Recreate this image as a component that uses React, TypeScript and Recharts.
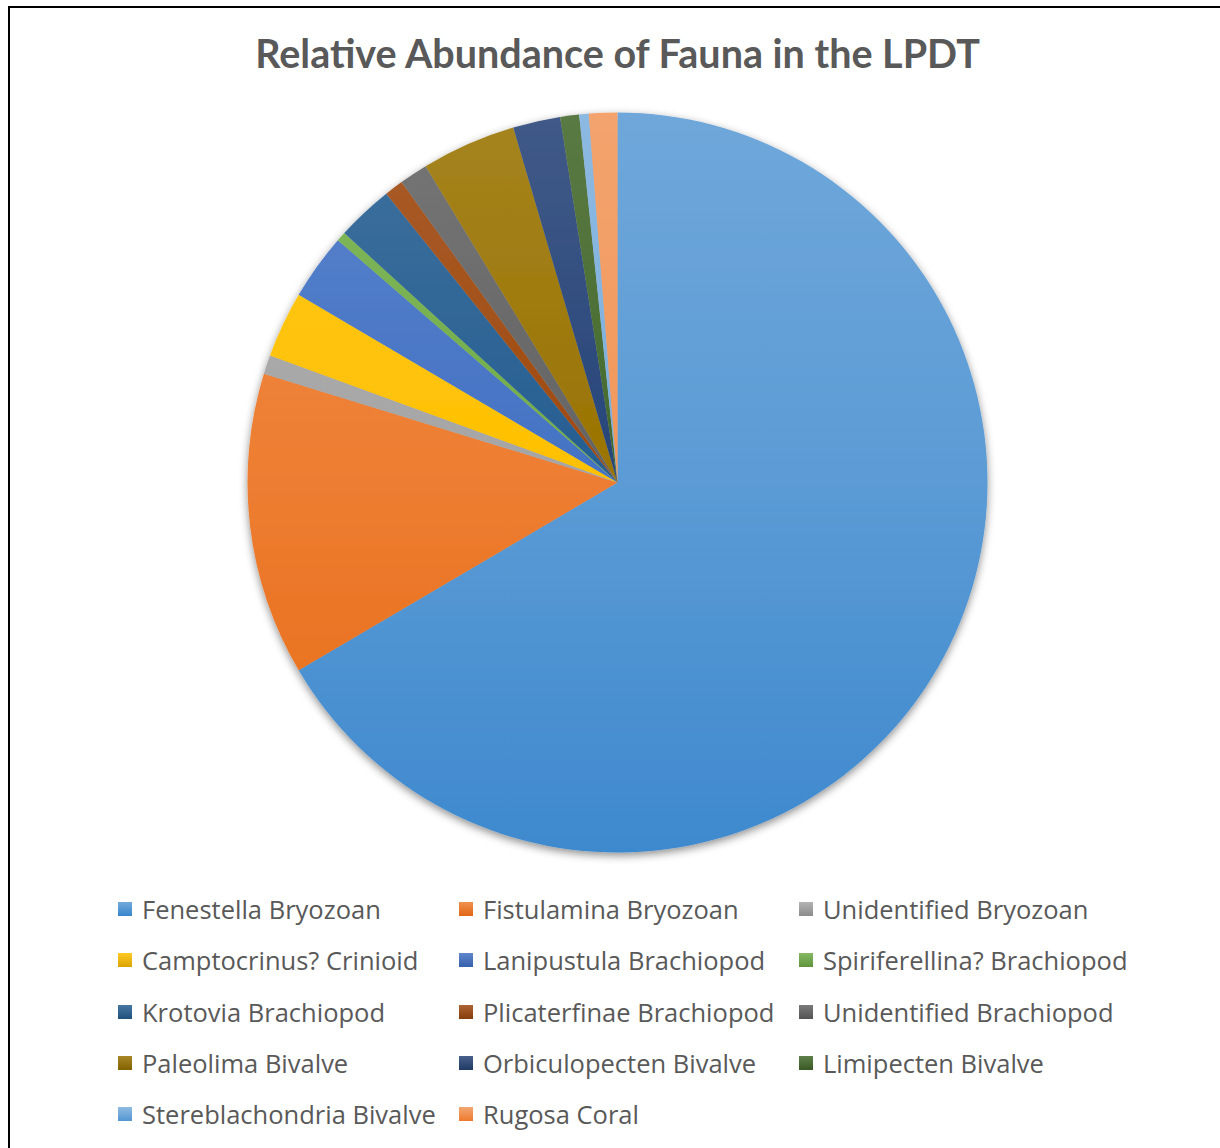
import React from 'react';
import { PieChart, Pie, Cell, Legend } from 'recharts';

const CATEGORIES = [
  'Fenestella Bryozoan',
  'Fistulamina Bryozoan',
  'Unidentified Bryozoan',
  'Camptocrinus? Crinioid',
  'Lanipustula Brachiopod',
  'Spiriferellina? Brachiopod',
  'Krotovia Brachiopod',
  'Plicaterfinae Brachiopod',
  'Unidentified Brachiopod',
  'Paleolima Bivalve',
  'Orbiculopecten Bivalve',
  'Limipecten Bivalve',
  'Stereblachondria Bivalve',
  'Rugosa Coral',
];

const COUNTS = [161, 32, 2, 7, 7, 1, 6, 2, 3, 10, 5, 2, 1, 3];

const COLORS = [
  '#5B9BD5', '#ED7D31', '#A5A5A5', '#FFC000', '#4472C4', '#70AD47',
  '#255E91', '#9E480E', '#636363', '#997300', '#264478', '#43682B',
  '#7CAFDD', '#F1975A',
];

const TITLE = 'Relative Abundance of Fauna in the LPDT';

const data = CATEGORIES.map((name, i) => ({ name, value: COUNTS[i] }));

function hexToRgb(h: string) {
  const n = parseInt(h.slice(1), 16);
  return [(n >> 16) & 255, (n >> 8) & 255, n & 255];
}
function rgbToHex(r: number[]) {
  return '#' + r.map((v) => Math.max(0, Math.min(255, Math.round(v))).toString(16).padStart(2, '0')).join('');
}
function hexToHsl(h: string) {
  const [R0, G0, B0] = hexToRgb(h);
  const r = R0 / 255, g = G0 / 255, b = B0 / 255;
  const max = Math.max(r, g, b), min = Math.min(r, g, b);
  let hh = 0, s = 0;
  const l = (max + min) / 2;
  if (max !== min) {
    const d = max - min;
    s = l > 0.5 ? d / (2 - max - min) : d / (max + min);
    if (max === r) hh = (g - b) / d + (g < b ? 6 : 0);
    else if (max === g) hh = (b - r) / d + 2;
    else hh = (r - g) / d + 4;
    hh /= 6;
  }
  return [hh, s, l];
}
function hslToHex(h: number, s: number, l: number) {
  const f = (p: number, q: number, t: number) => {
    if (t < 0) t += 1;
    if (t > 1) t -= 1;
    if (t < 1 / 6) return p + (q - p) * 6 * t;
    if (t < 1 / 2) return q;
    if (t < 2 / 3) return p + (q - p) * (2 / 3 - t) * 6;
    return p;
  };
  let r, g, b;
  if (s === 0) { r = g = b = l; } else {
    const q = l < 0.5 ? l * (1 + s) : l + s - l * s;
    const p = 2 * l - q;
    r = f(p, q, h + 1 / 3); g = f(p, q, h); b = f(p, q, h - 1 / 3);
  }
  return rgbToHex([r * 255, g * 255, b * 255]);
}
function lighter(c: string, f: number) {
  return rgbToHex(hexToRgb(c).map((v) => v + (255 - v) * f));
}
function darker(c: string, f: number) {
  const [h, s, l] = hexToHsl(c);
  return hslToHex(h, s, l * f);
}

const CX = 617.5;
const CY = 482.5;
const R = 370;

const COL_X = [118, 459, 799];
const ROW_Y0 = 29;
const ROW_DY = 51.25;

const renderLegend = (props: any) => {
  const payload = [...(props.payload || [])].sort(
    (a: any, b: any) => CATEGORIES.indexOf(a.value) - CATEGORIES.indexOf(b.value)
  );
  return (
    <div style={{ position: 'relative', width: 1220, height: 260 }}>
      {payload.map((entry: any, i: number) => {
        const col = i % 3;
        const row = Math.floor(i / 3);
        const idx = CATEGORIES.indexOf(entry.value);
        const c = COLORS[idx >= 0 ? idx : i];
        const y = ROW_Y0 + row * ROW_DY;
        return (
          <div key={i}>
            <div
              style={{
                position: 'absolute',
                left: COL_X[col],
                top: y - 7,
                width: 14,
                height: 14,
                background: `linear-gradient(to bottom, ${lighter(c, 0.15)}, ${darker(c, 0.85)})`,
              }}
            />
            <div
              style={{
                position: 'absolute',
                left: COL_X[col] + 24,
                top: y - 17,
                height: 34,
                lineHeight: '34px',
                fontFamily: '"Open Sans", sans-serif',
                fontSize: 25.5,
                color: '#595959',
                whiteSpace: 'nowrap',
              }}
            >
              {entry.value}
            </div>
          </div>
        );
      })}
    </div>
  );
};

export default function App() {
  return (
    <div style={{ position: 'absolute', left: 0, top: 0, width: 1220, height: 1148, background: '#ffffff', overflow: 'hidden' }}>
      <style>{`.recharts-pie { filter: url(#pieShadow); }`}</style>
      <div style={{ position: 'absolute', left: 8, top: 6, width: 1212, height: 2, background: '#000' }} />
      <div style={{ position: 'absolute', left: 8, top: 6, width: 2, height: 1142, background: '#000' }} />
      <div
        style={{
          position: 'absolute',
          left: 0,
          top: 28,
          width: 1235,
          textAlign: 'center',
          fontFamily: 'Lato, "Open Sans", sans-serif',
          fontWeight: 700,
          fontSize: 39.5,
          lineHeight: '50px',
          color: '#595959',
          whiteSpace: 'nowrap',
        }}
      >
        {TITLE}
      </div>
      <div style={{ position: 'absolute', left: 0, top: 0 }}>
        <PieChart width={1220} height={1148} margin={{ top: 0, right: 0, bottom: 0, left: 0 }}>
          <defs>
            <filter id="pieShadow" x="-10%" y="-10%" width="120%" height="120%">
              <feDropShadow dx="0" dy="3" stdDeviation="4" floodColor="#000" floodOpacity="0.45" />
            </filter>
            {COLORS.map((c, i) => (
              <linearGradient key={i} id={`g${i}`} gradientUnits="userSpaceOnUse" x1="0" y1={CY - R} x2="0" y2={CY + R}>
                <stop offset="0%" stopColor={lighter(c, 0.12)} />
                <stop offset="50%" stopColor={c} />
                <stop offset="100%" stopColor={darker(c, 0.88)} />
              </linearGradient>
            ))}
          </defs>
          <Pie
            data={data}
            dataKey="value"
            nameKey="name"
            cx={CX}
            cy={CY}
            outerRadius={R}
            innerRadius={0}
            startAngle={90}
            endAngle={-270}
            stroke="none"
            isAnimationActive={false}
            label={false}
            labelLine={false}
          >
            {data.map((d, i) => (
              <Cell key={d.name} fill={`url(#g${i})`} stroke="none" />
            ))}
          </Pie>
          <Legend
            verticalAlign="bottom"
            content={renderLegend}
            wrapperStyle={{ position: 'absolute', left: 0, top: 880, width: 1220, height: 260 }}
          />
        </PieChart>
      </div>
    </div>
  );
}
